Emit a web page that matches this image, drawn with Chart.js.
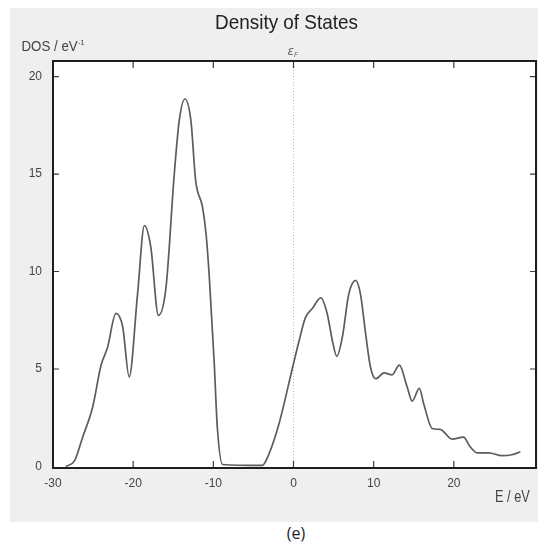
<!DOCTYPE html>
<html>
<head>
<meta charset="utf-8">
<script src="https://cdn.jsdelivr.net/npm/chart.js@4.4.0/dist/chart.umd.min.js"></script>
<style>
  body { margin: 0; background: #fff; width: 538px; height: 546px; position: relative; overflow: hidden; }
  #panel { position: absolute; left: 10px; top: 8px; width: 528px; height: 514px; background: #efefef; }
  #caption { position: absolute; left: 276px; width: 40px; top: 522px; text-align: center;
             font-family: "Open Sans", "Noto Sans", sans-serif; font-size: 16px; color: #1c1c2c; }
</style>
</head>
<body>
<div id="panel"><canvas id="dos" width="528" height="514"></canvas></div>
<div id="caption">(e)</div>
<script>
// energy grid (eV) and total density of states (states / eV)
const energy = [-28.4, -27.3, -26.3, -25.05, -24.0, -23.2, -22.15, -21.3, -20.5, -19.45,
                -18.6, -17.8, -16.85, -15.9, -14.9, -14.25, -13.55, -12.8, -12.2, -11.35,
                -10.9, -10.5, -9.9, -9.5, -8.85, -3.9, -3.05, -1.8, -0.1, 0.7,
                1.5, 2.35, 3.4, 4.2, 4.85, 5.4, 6.1, 6.9, 7.75, 8.35,
                9.0, 9.6, 10.25, 11.3, 12.3, 13.2, 14.2, 14.8, 15.7, 16.25,
                17.3, 18.3, 19.8, 21.2, 22.05, 22.9, 24.35, 26.0, 27.25, 28.3];
const dos    = [0, 0.3, 1.5, 3.05, 5.2, 6.1, 7.85, 7.15, 4.6, 8.85,
                12.35, 11.25, 7.75, 9.2, 14.85, 17.75, 18.85, 17.75, 14.65, 13.3,
                11.9, 9.7, 5.4, 2.0, 0.1, 0.05, 0.65, 2.2, 5.1, 6.45,
                7.65, 8.1, 8.65, 7.85, 6.45, 5.65, 6.65, 8.85, 9.55, 8.85,
                6.8, 5.1, 4.5, 4.8, 4.7, 5.2, 4.05, 3.35, 4.0, 3.2,
                1.95, 1.9, 1.4, 1.5, 1.0, 0.7, 0.7, 0.55, 0.6, 0.75];

const xTicks = [-30, -20, -10, 0, 10, 20];
const yTicks = [0, 5, 10, 15, 20];
const fermi  = 0;

const sans = '"Liberation Sans", Arial, sans-serif';

let points = [];
for (let i = 0; i < energy.length; i++){
    points.push({x: energy[i], y: dos[i]});
}

// condensed text: squeeze the glyphs horizontally, returns drawn width
function narrowText(ctx, text, x, y, sx){
    ctx.save();
    ctx.translate(x, y);
    ctx.scale(sx, 1);
    ctx.fillText(text, 0, 0);
    const w = ctx.measureText(text).width * sx;
    ctx.restore();
    return w;
}

// white plot area, frame, inward ticks, Fermi level marker and the labels around the plot
const decorations = {
    id: "decorations",
    beforeDraw(chart){
        const ctx = chart.ctx;
        const a = chart.chartArea;
        ctx.save();
        ctx.fillStyle = "#ffffff";
        ctx.fillRect(a.left, a.top, a.right - a.left, a.bottom - a.top);
        ctx.restore();
    },
    beforeDatasetsDraw(chart){
        const ctx = chart.ctx;
        const a = chart.chartArea;
        const xs = chart.scales.x;
        const px = Math.round(xs.getPixelForValue(fermi)) + 0.5;
        ctx.save();
        ctx.strokeStyle = "#b8b8b8";
        ctx.lineWidth = 1;
        ctx.setLineDash([1, 2]);
        ctx.beginPath();
        ctx.moveTo(px, a.top);
        ctx.lineTo(px, a.bottom);
        ctx.stroke();
        ctx.restore();
    },
    afterDatasetsDraw(chart){
        const ctx = chart.ctx;
        const a = chart.chartArea;
        const xs = chart.scales.x;
        const ys = chart.scales.y;
        ctx.save();
        ctx.strokeStyle = "#3a3a3a";
        ctx.lineWidth = 1.2;
        ctx.beginPath();
        for (let v of xTicks){
            const p = xs.getPixelForValue(v);
            if (p <= a.left + 2) continue;
            ctx.moveTo(p, a.bottom); ctx.lineTo(p, a.bottom - 7);
            ctx.moveTo(p, a.top);    ctx.lineTo(p, a.top + 7);
        }
        for (let v of yTicks){
            const p = ys.getPixelForValue(v);
            if (p >= a.bottom - 2) continue;
            ctx.moveTo(a.left, p);  ctx.lineTo(a.left + 6, p);
            ctx.moveTo(a.right, p); ctx.lineTo(a.right - 6, p);
        }
        ctx.stroke();

        ctx.strokeStyle = "#1e1e1e";
        ctx.lineWidth = 2;
        ctx.strokeRect(a.left, a.top, a.right - a.left, a.bottom - a.top);

        // title
        ctx.fillStyle = "#222";
        ctx.textAlign = "left";
        ctx.textBaseline = "alphabetic";
        ctx.font = "21px " + sans;
        const tw = ctx.measureText("Density of States").width * 0.9;
        narrowText(ctx, "Density of States", 276.5 - tw / 2, 20.5, 0.9);

        // y axis label with superscript
        ctx.fillStyle = "#444";
        ctx.font = "14px " + sans;
        const w = narrowText(ctx, "DOS / eV", 11.5, 42.5, 0.95);
        ctx.font = "8px " + sans;
        narrowText(ctx, "-1", 11.5 + w + 0.5, 36.5, 0.9);

        // x axis label
        ctx.font = "16px " + sans;
        narrowText(ctx, "E / eV", 485, 493.5, 0.8);

        // Fermi level label
        const fx = xs.getPixelForValue(fermi);
        ctx.fillStyle = "#666";
        ctx.font = 'italic 12px "DejaVu Sans", sans-serif';
        ctx.fillText("\u03b5", fx - 6, 46.5);
        ctx.font = 'italic 7px "DejaVu Sans", sans-serif';
        ctx.fillText("F", fx + 0.5, 48.5);
        ctx.restore();
    }
};

const ctx = document.getElementById("dos").getContext("2d");
const dosChart = new Chart(ctx, {
    type: "line",
    data: {
        datasets: [{
            data: points,
            borderColor: "#5c5c5c",
            borderWidth: 1.7,
            pointRadius: 0,
            fill: false,
            cubicInterpolationMode: "monotone"
        }]
    },
    options: {
        responsive: false,
        animation: false,
        devicePixelRatio: 1,
        layout: { padding: { top: 53, right: 2, left: 0, bottom: 0 } },
        plugins: { legend: { display: false }, tooltip: { enabled: false } },
        scales: {
            x: {
                type: "linear",
                min: -30,
                max: 30.25,
                afterBuildTicks: (s) => { s.ticks = xTicks.map(v => ({value: v})); },
                afterFit: (s) => { s.height = 54; },
                grid: { display: false, drawTicks: false },
                border: { display: false },
                ticks: { padding: 8, maxRotation: 0, color: "#444",
                         font: { family: sans, size: 12 } }
            },
            y: {
                type: "linear",
                min: -0.08,
                max: 20.8,
                afterBuildTicks: (s) => { s.ticks = yTicks.map(v => ({value: v})); },
                afterFit: (s) => { s.width = 43; },
                grid: { display: false, drawTicks: false },
                border: { display: false },
                ticks: { padding: 11, color: "#444",
                         font: { family: sans, size: 12 } }
            }
        }
    },
    plugins: [decorations]
});
</script>
</body>
</html>
